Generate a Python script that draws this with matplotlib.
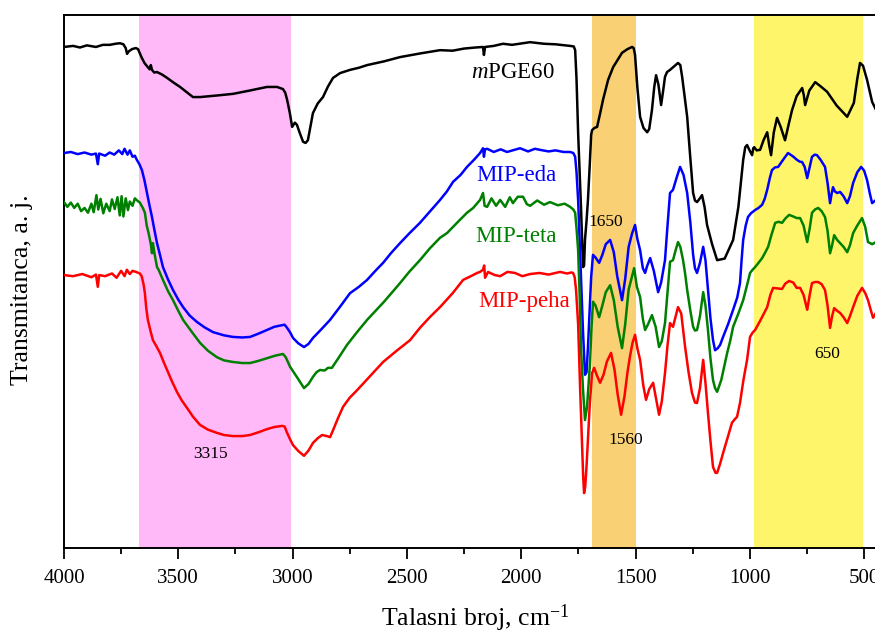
import matplotlib
matplotlib.use("Agg")
import matplotlib.pyplot as plt
from matplotlib.ticker import MultipleLocator, NullLocator

plt.rcParams['font.family'] = ['Liberation Serif', 'DejaVu Serif']
plt.rcParams['mathtext.fontset'] = 'custom'
plt.rcParams['mathtext.rm'] = 'Liberation Serif'
plt.rcParams['mathtext.it'] = 'Liberation Serif:italic'

# FTIR spectra: wavenumber (cm-1) and transmittance (arbitrary units, offset)
wn_pge = [4000, 3960, 3930, 3900, 3886, 3860, 3830, 3799, 3775, 3755, 3740, 3730,
          3724, 3716, 3702, 3686, 3676, 3660, 3648, 3637, 3625, 3620, 3615, 3605,
          3593, 3570, 3549, 3520, 3492, 3460, 3436, 3405, 3330, 3261, 3190, 3112,
          3068, 3042, 3032, 3024, 3012, 3002, 2990, 2981, 2968, 2954, 2943, 2933,
          2922, 2911, 2890, 2867, 2845, 2823, 2792, 2749, 2710, 2674, 2600, 2530,
          2440, 2355, 2300, 2250, 2200, 2167, 2163, 2158, 2120, 2080, 2040, 1961,
          1900, 1850, 1786, 1770, 1764, 1758, 1751, 1744, 1738, 1733, 1729, 1725,
          1721, 1714, 1708, 1700, 1694, 1690, 1680, 1668, 1655, 1642, 1620, 1598,
          1575, 1559, 1535, 1520, 1515, 1508, 1502, 1492, 1480, 1465, 1449, 1440,
          1428, 1418, 1410, 1400, 1388, 1380, 1371, 1362, 1349, 1330, 1314, 1304,
          1296, 1286, 1274, 1260, 1248, 1240, 1231, 1220, 1209, 1198, 1187, 1165,
          1143, 1110, 1073, 1050, 1029, 1020, 1012, 1000, 990, 985, 981, 970, 955,
          940, 924, 915, 907, 895, 881, 865, 846, 830, 815, 795, 771, 764, 758, 740,
          714, 690, 662, 620, 574, 545, 530, 518, 505, 487, 465, 448]
t_pge = [94.0, 94.2, 93.9, 94.3, 94.2, 94.0, 94.4, 94.4, 94.6, 94.7, 94.5, 93.8,
         92.7, 93.2, 93.6, 93.8, 93.6, 92.0, 91.0, 90.4, 89.8, 90.6, 89.7, 89.2,
         89.3, 88.8, 88.2, 87.3, 86.5, 85.4, 84.6, 84.6, 84.9, 85.2, 85.8, 86.5,
         86.5, 86.1, 85.4, 84.1, 81.6, 79.0, 79.8, 79.4, 77.8, 76.2, 76.0, 76.5,
         79.0, 81.6, 83.4, 84.6, 86.6, 88.2, 89.1, 89.7, 90.1, 90.6, 91.3, 92.1,
         92.8, 93.4, 93.3, 93.7, 93.9, 94.0, 92.5, 94.0, 94.2, 94.6, 94.4, 94.9,
         94.6, 94.5, 94.2, 94.1, 93.4, 88.0, 77.9, 70.0, 63.4, 57.0, 52.7, 53.0,
         57.8, 61.5, 65.3, 72.0, 77.5, 78.4, 78.8, 79.0, 81.5, 84.1, 87.8, 90.2,
         91.8, 92.9, 93.6, 93.9, 94.0, 93.8, 92.5, 86.5, 80.9, 78.8, 78.0, 78.6,
         82.2, 86.5, 88.7, 87.0, 83.1, 85.5, 88.4, 89.3, 89.7, 90.4, 91.0, 90.6,
         88.4, 85.0, 80.9, 73.0, 66.6, 65.2, 64.9, 65.5, 66.2, 64.0, 60.6, 57.0,
         54.0, 54.3, 57.8, 64.0, 72.8, 75.2, 75.6, 74.5, 73.7, 75.0, 75.2, 74.6, 74.7,
         76.5, 78.0, 75.5, 73.7, 78.0, 80.7, 79.0, 76.5, 79.5, 82.2, 84.8, 86.3, 85.0, 83.1, 85.8,
         87.4, 86.6, 85.6, 83.0, 80.9, 83.5, 88.0, 91.0, 90.5, 87.8, 83.7, 82.2]

wn_eda = [4000, 3970, 3940, 3910, 3880, 3860, 3852, 3846, 3820, 3800, 3780, 3760,
          3745, 3735, 3722, 3712, 3700, 3690, 3681, 3670, 3659, 3648, 3637, 3626,
          3615, 3605, 3593, 3580, 3567, 3545, 3523, 3500, 3479, 3450, 3418, 3385,
          3348, 3300, 3261, 3220, 3186, 3150, 3112, 3080, 3046, 3035, 3024, 3010,
          2998, 2975, 2950, 2930, 2911, 2875, 2836, 2790, 2749, 2710, 2674, 2640,
          2604, 2570, 2530, 2490, 2443, 2400, 2355, 2325, 2298, 2265, 2237, 2205,
          2180, 2167, 2163, 2158, 2149, 2120, 2090, 2062, 2030, 2005, 1970, 1940,
          1918, 1880, 1850, 1815, 1786, 1772, 1764, 1758, 1751, 1744, 1738, 1730,
          1721, 1714, 1708, 1700, 1694, 1686, 1675, 1659, 1645, 1630, 1611, 1595,
          1580, 1559, 1545, 1530, 1515, 1502, 1492, 1480, 1468, 1458, 1450, 1436,
          1420, 1401, 1388, 1371, 1360, 1349, 1336, 1320, 1305, 1290, 1274, 1260,
          1248, 1240, 1231, 1218, 1204, 1194, 1183, 1172, 1161, 1152, 1140, 1130,
          1117, 1095, 1073, 1055, 1043, 1036, 1029, 1018, 1008, 995, 977, 962, 946,
          935, 924, 912, 903, 890, 876, 855, 833, 812, 793, 782, 771, 760, 749, 738,
          728, 716, 706, 690, 671, 660, 649, 642, 636, 628, 618, 605, 590, 574, 562,
          548, 530, 513, 500, 487, 475, 465, 448]
t_eda = [74.1, 74.3, 73.9, 74.2, 73.8, 74.0, 72.0, 74.0, 73.6, 74.2, 73.8, 74.6,
         73.9, 74.9, 73.8, 74.6, 73.4, 73.6, 72.8, 72.0, 70.9, 69.0, 66.6, 64.3,
         62.1, 59.8, 57.2, 55.0, 52.7, 50.4, 48.4, 46.6, 45.2, 43.6, 42.4, 41.4,
         40.5, 39.9, 39.6, 39.5, 39.6, 40.2, 40.9, 41.5, 41.8, 41.9, 41.3, 40.4,
         39.4, 38.4, 37.7, 38.3, 39.4, 41.0, 42.8, 45.4, 47.8, 49.0, 50.3, 51.9,
         53.5, 55.3, 57.2, 59.0, 61.0, 63.1, 65.3, 66.9, 68.7, 70.0, 71.5, 72.9,
         74.1, 75.0, 73.4, 74.8, 74.9, 74.3, 74.8, 74.3, 74.7, 75.0, 74.4, 74.9,
         74.7, 74.4, 74.6, 74.3, 74.3, 74.1, 73.4, 70.5, 65.3, 57.5, 50.3, 41.0,
         32.5, 33.0, 37.7, 45.0, 50.8, 55.0, 54.5, 53.5, 55.0, 57.0, 57.8, 55.5,
         51.0, 46.5, 50.5, 56.5, 59.0, 60.6, 58.0, 55.9, 52.5, 51.6, 52.8, 54.4,
         52.0, 48.0, 49.8, 54.0, 60.5, 66.6, 67.2, 69.5, 71.5, 70.0, 66.6, 61.0,
         55.0, 52.5, 51.6, 53.5, 56.5, 54.0, 48.4, 43.0, 39.0, 37.1, 37.5, 38.1,
         39.6, 42.0, 44.7, 47.0, 49.7, 54.0, 57.8, 60.5, 62.1, 62.8, 63.4, 63.8, 64.4,
         65.5, 67.2, 69.5, 70.9, 71.4, 71.5, 72.8, 74.1, 73.5, 72.8, 72.5, 72.4, 71.5, 69.4, 71.5,
         73.4, 73.8, 73.7, 72.8, 71.5, 68.5, 64.7, 66.5, 67.7, 66.9, 66.6, 66.8, 66.0, 64.7, 66.0,
         68.5, 70.5, 71.5, 70.8, 69.0, 66.5, 64.7, 65.3]

wn_teta = [4000, 3985, 3970, 3955, 3940, 3925, 3910, 3895, 3880, 3870, 3858, 3850,
           3840, 3828, 3815, 3800, 3790, 3778, 3766, 3756, 3748, 3740, 3730, 3720,
           3712, 3700, 3690, 3680, 3668, 3655, 3646, 3638, 3630, 3620, 3615, 3611,
           3603, 3593, 3586, 3580, 3567, 3545, 3523, 3500, 3479, 3440, 3405, 3370,
           3331, 3300, 3261, 3220, 3186, 3150, 3112, 3075, 3042, 3030, 3011, 2980,
           2950, 2930, 2911, 2895, 2880, 2860, 2845, 2828, 2800, 2762, 2720, 2674,
           2600, 2530, 2490, 2443, 2400, 2355, 2324, 2281, 2237, 2210, 2180, 2167,
           2160, 2149, 2130, 2110, 2092, 2070, 2050, 2036, 2015, 1992, 1975, 1961,
           1930, 1900, 1874, 1840, 1810, 1786, 1772, 1764, 1758, 1751, 1744, 1738,
           1730, 1721, 1712, 1699, 1693, 1686, 1675, 1659, 1645, 1630, 1611, 1595,
           1578, 1559, 1545, 1530, 1515, 1506, 1494, 1480, 1468, 1458, 1445, 1428,
           1412, 1397, 1385, 1371, 1360, 1349, 1336, 1325, 1314, 1304, 1292, 1283,
           1274, 1260, 1248, 1240, 1231, 1218, 1204, 1194, 1183, 1172, 1161, 1152,
           1143, 1125, 1099, 1085, 1073, 1050, 1029, 1014, 999, 988, 977, 962, 946,
           932, 920, 905, 889, 874, 859, 845, 828, 810, 795, 780, 765, 749, 738, 728,
           715, 701, 686, 671, 660, 649, 640, 631, 618, 605, 590, 574, 562, 548,
           530, 509, 495, 483, 465, 448]
t_teta = [64.9, 64.0, 64.8, 63.8, 64.6, 63.2, 63.8, 62.9, 64.6, 63.0, 66.2, 63.5,
          65.5, 62.8, 64.6, 63.2, 65.4, 63.6, 65.8, 62.4, 66.0, 62.2, 65.6, 63.4,
          65.0, 64.2, 65.6, 65.2, 64.8, 63.8, 62.9, 60.5, 59.1, 57.0, 55.3, 57.2,
          55.0, 52.7, 52.2, 51.6, 50.3, 48.2, 46.5, 44.5, 42.8, 40.5, 38.5, 37.0,
          35.8, 35.2, 34.9, 34.7, 34.7, 35.1, 35.6, 36.1, 36.4, 35.8, 34.0, 32.0,
          30.0, 30.8, 32.1, 33.0, 33.4, 33.3, 33.8, 33.8, 35.6, 38.1, 40.4, 42.8,
          46.2, 49.7, 51.8, 54.0, 56.2, 58.2, 59.1, 61.0, 62.9, 63.8, 65.3, 66.6,
          64.2, 64.0, 65.6, 64.2, 65.3, 64.0, 65.8, 64.7, 65.9, 65.9, 64.5, 64.2,
          65.2, 64.4, 64.9, 64.3, 64.6, 64.0, 63.5, 62.9, 60.0, 55.9, 47.0, 37.1,
          30.0, 24.0, 26.5, 34.7, 41.0, 46.2, 45.5, 43.3, 45.5, 48.0, 49.3, 46.5,
          41.5, 37.5, 42.0, 48.5, 51.0, 52.5, 49.0, 47.1, 43.0, 40.9, 42.0, 43.7,
          41.5, 37.7, 38.8, 42.2, 48.0, 53.7, 54.0, 55.8, 57.4, 56.5, 54.0, 51.5,
          48.4, 44.5, 41.5, 40.8, 40.9, 43.5, 48.0, 45.5, 40.9, 35.5, 31.5, 30.0,
          29.3, 31.5, 36.6, 39.0, 41.5, 44.0, 46.5, 49.0, 51.6, 52.2, 52.7, 53.5, 54.4,
          55.5, 56.5, 58.8, 61.0, 61.2, 61.0, 61.8, 62.5, 62.2, 61.9, 61.9, 60.5, 57.4, 60.0, 62.9,
          63.5, 63.8, 63.2, 62.1, 59.5, 55.3, 56.8, 58.7, 57.8, 57.2, 56.5, 55.5, 56.8, 59.1,
          60.5, 61.9, 60.2, 57.4, 57.0, 57.4]

wn_peha = [4000, 3960, 3920, 3880, 3860, 3852, 3846, 3820, 3790, 3770, 3750, 3735,
           3725, 3712, 3700, 3685, 3668, 3660, 3652, 3646, 3640, 3633, 3622, 3611,
           3595, 3580, 3565, 3549, 3528, 3506, 3485, 3462, 3435, 3405, 3370, 3331,
           3300, 3261, 3220, 3186, 3150, 3112, 3080, 3046, 3035, 3024, 3010, 2998,
           2975, 2950, 2930, 2911, 2890, 2871, 2850, 2836, 2823, 2800, 2779, 2750,
           2718, 2660, 2604, 2545, 2486, 2443, 2400, 2355, 2300, 2254, 2220, 2193,
           2180, 2167, 2162, 2158, 2145, 2136, 2115, 2092, 2060, 2027, 1995, 1961,
           1920, 1880, 1830, 1800, 1780, 1773, 1766, 1760, 1751, 1742, 1734, 1729,
           1725, 1720, 1714, 1708, 1700, 1690, 1681, 1670, 1655, 1640, 1625, 1607,
           1592, 1578, 1563, 1548, 1535, 1524, 1513, 1502, 1492, 1480, 1466, 1454,
           1440, 1423, 1410, 1397, 1385, 1371, 1360, 1349, 1336, 1324, 1314, 1300,
           1283, 1268, 1253, 1240, 1231, 1218, 1204, 1194, 1183, 1172, 1161, 1150,
           1143, 1130, 1117, 1095, 1078, 1065, 1056, 1043, 1028, 1012, 999, 988, 977,
           955, 924, 910, 898, 878, 859, 845, 828, 810, 795, 780, 765, 749, 738, 728,
           715, 701, 686, 671, 660, 649, 640, 631, 618, 605, 590, 574, 562, 548, 530,
           509, 495, 483, 470, 461, 448]
t_peha = [51.2, 51.0, 51.4, 50.8, 51.3, 49.0, 51.2, 51.0, 51.5, 50.7, 52.0, 51.0,
          52.2, 51.4, 52.0, 51.8, 51.5, 51.0, 49.5, 47.8, 45.0, 42.8, 40.8, 39.0,
          37.8, 36.6, 35.0, 33.4, 31.3, 29.3, 27.7, 26.3, 24.6, 23.1, 22.2, 21.6,
          21.2, 21.0, 21.0, 21.2, 21.7, 22.3, 22.7, 22.9, 22.8, 21.6, 20.3, 19.3,
          18.2, 17.3, 18.3, 19.7, 20.6, 21.2, 21.0, 20.8, 22.1, 24.5, 26.5, 28.2,
          29.6, 32.3, 34.9, 37.0, 39.0, 41.3, 43.3, 45.2, 47.8, 50.3, 51.0, 51.6,
          51.8, 52.2, 53.0, 50.7, 51.8, 51.6, 51.2, 51.0, 51.8, 51.6, 51.0, 51.4,
          51.6, 51.3, 51.8, 51.5, 51.7, 51.6, 50.8, 48.4, 42.0, 29.6, 20.0, 13.5,
          10.3, 11.5, 15.5, 20.3, 27.0, 32.8, 33.8, 32.5, 31.0, 32.5, 35.0, 36.6,
          33.5, 28.8, 25.0, 28.5, 33.0, 36.0, 38.5, 40.0, 37.5, 35.3, 30.5, 27.8,
          29.8, 31.0, 28.0, 25.0, 27.5, 32.8, 38.0, 42.2, 41.5, 43.5, 45.2, 44.0,
          37.7, 33.0, 29.1, 27.3, 27.2, 30.0, 35.3, 31.0, 25.3, 20.0, 15.2, 14.1,
          14.1, 15.8, 17.8, 21.0, 23.5, 24.2, 24.6, 27.2, 31.5, 35.3, 39.6, 40.4, 40.9,
          42.6, 45.2, 47.5, 48.8, 48.7, 48.6, 49.6, 50.1, 49.8, 48.8, 48.8, 47.5, 44.7, 47.5, 49.7,
          49.9, 49.9, 49.5, 48.4, 45.5, 41.3, 43.5, 45.0, 44.5, 44.1, 43.3, 42.2, 43.5, 45.2, 47.3,
          48.8, 47.8, 46.5, 44.5, 43.2, 44.1]

# highlighted absorption bands (cm-1)
bands = [(3672, 3007), (1691, 1500), (983, 506)]
band_colors = ['#FFB9F9', '#F9D073', '#FFF56A']

series = [
    (wn_pge, t_pge, 'black', r'$\mathit{m}$PGE60', 2036, 89.3),
    (wn_eda, t_eda, '#0000FF', 'MIP-eda', 2022, 69.8),
    (wn_teta, t_teta, '#008000', 'MIP-teta', 2022, 58.5),
    (wn_peha, t_peha, '#FF0000', 'MIP-peha', 1988, 46.2),
]

peak_labels = [('3315', 3361, 17.6), ('1650', 1629, 61.2),
               ('1560', 1541, 20.3), ('650', 662, 36.4)]

fig = plt.figure(figsize=(8.75, 6.35), dpi=100)
ax = fig.add_axes([0.0731, 0.137, 0.9406, 0.8394])

for (lo, hi), c in zip(bands, band_colors):
    ax.axvspan(hi, lo, color=c, lw=0, zorder=0)

for wn, t, c, name, lx, ly in series:
    ax.plot(wn, t, color=c, lw=1.8, solid_joinstyle='round', zorder=3)
    ax.text(lx, ly, name, color=c, fontsize=16.5, ha='center', va='center', zorder=4)

for txt, x, y in peak_labels:
    ax.text(x, y, txt, color='black', fontsize=12.5, ha='center', va='center', zorder=4)

ax.set_xlim(4000, 400)
ax.set_ylim(0, 100)
ax.xaxis.set_major_locator(MultipleLocator(500))
ax.xaxis.set_minor_locator(MultipleLocator(250))
ax.yaxis.set_major_locator(NullLocator())
ax.tick_params(axis='x', which='major', direction='out', length=8, width=1.3,
               labelsize=15, pad=7)
ax.tick_params(axis='x', which='minor', direction='out', length=4.5, width=1.3)
for sp in ax.spines.values():
    sp.set_linewidth(1.4)

ax.set_xlabel(r'Talasni broj, cm$^{-1}$', fontsize=18.5)
ax.set_ylabel('Transmitanca, a. j.', fontsize=18.5)
ax.xaxis.set_label_coords(0.5, -0.103)
ax.yaxis.set_label_coords(-0.038, 0.484)

fig.savefig('out.png', dpi=100, facecolor='white')
